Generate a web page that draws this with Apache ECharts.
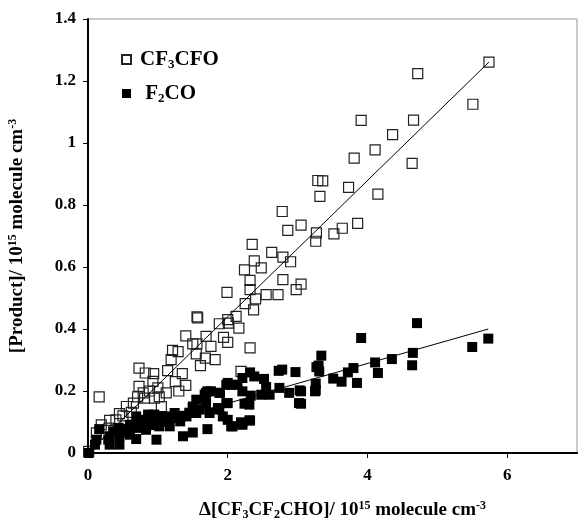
<!DOCTYPE html>
<html><head><meta charset="utf-8">
<script src="https://cdn.jsdelivr.net/npm/echarts@6/dist/echarts.min.js"></script>
<style>html,body{margin:0;padding:0;background:#fff}#c{width:578px;height:520px}</style>
</head><body><div id="c"></div>
<script>
// CF3CFO (open squares) [x, y]
const cf3cfo = [
[5.74,1.261],[4.72,1.224],[5.51,1.125],[3.91,1.073],[4.66,1.074],[4.36,1.027],[4.11,0.978],[3.81,0.951],[4.64,0.934],[3.29,0.879],[3.36,0.878],[3.73,0.857],[3.32,0.828],[4.15,0.835],
[3.05,0.735],[3.27,0.710],[3.26,0.683],[3.52,0.707],[3.64,0.725],[3.86,0.741],[3.05,0.545],
[2.78,0.779],[2.86,0.718],[2.35,0.673],[2.63,0.647],[2.79,0.632],[2.90,0.617],[2.38,0.620],[2.24,0.591],[2.48,0.597],[2.32,0.557],[2.79,0.559],[2.32,0.527],[1.99,0.518],[2.55,0.511],[2.72,0.511],[2.98,0.527],[2.40,0.497],[2.25,0.482],[2.37,0.462],[2.12,0.441],[2.16,0.403],[1.88,0.417],[2.00,0.430],[2.01,0.419],[1.56,0.439],[1.57,0.436],[1.40,0.378],[1.69,0.376],[1.94,0.373],[2.00,0.357],[2.32,0.339],[1.56,0.352],[1.76,0.344],[1.50,0.352],[1.21,0.331],[1.29,0.327],[1.19,0.301],[1.55,0.320],[1.68,0.306],[1.82,0.301],[1.61,0.282],[0.73,0.274],[0.82,0.258],[0.94,0.256],[1.14,0.266],[1.35,0.256],[2.19,0.263],
[0.16,0.181],[1.40,0.218],[0.73,0.215],[0.93,0.231],[0.71,0.181],[0.81,0.177],[1.02,0.181],[1.12,0.194],[0.55,0.150],[0.45,0.127],[0.31,0.105],[0.40,0.107],[0.12,0.065],[0.19,0.091],[0.01,0.005],[0.95,0.177],[0.79,0.194],[0.62,0.131],[0.65,0.161],[0.88,0.200],[1.00,0.210],[1.25,0.230],[0.50,0.120],[0.30,0.080],[1.05,0.150],[1.30,0.200]
];
// F2CO (filled squares) [x, y]
const f2co = [
[4.71,0.419],[3.91,0.371],[5.73,0.369],[5.50,0.342],[3.34,0.314],[4.65,0.323],[4.64,0.283],[4.35,0.303],[4.11,0.292],[4.15,0.258],[3.27,0.277],[3.31,0.263],[3.80,0.274],[3.72,0.260],[3.51,0.240],[3.63,0.230],[3.85,0.226],[3.26,0.224],[3.25,0.199],[3.05,0.199],[3.05,0.159],
[2.73,0.265],[2.78,0.269],[2.97,0.261],[3.30,0.282],[3.26,0.202],[3.03,0.202],[3.02,0.161],[2.88,0.194],[2.74,0.210],[2.32,0.260],[2.21,0.242],[2.38,0.247],[2.52,0.239],[2.00,0.226],[2.14,0.220],[2.55,0.213],[2.60,0.188],[2.48,0.188],[2.33,0.185],[2.21,0.199],[2.05,0.220],[1.71,0.199],[1.88,0.194],[1.67,0.188],[2.24,0.159],[2.31,0.156],[1.98,0.161],[1.55,0.172],[1.50,0.145],[1.86,0.145],[1.74,0.129],[1.93,0.118],[2.00,0.107],[2.05,0.086],[2.19,0.099],[2.21,0.091],[2.31,0.105],[1.71,0.077],[1.50,0.066],
[0.01,0.000],[0.16,0.077],[0.10,0.027],[0.12,0.043],[0.29,0.043],[0.31,0.027],[0.45,0.027],[0.45,0.054],[0.60,0.059],[0.69,0.045],[0.98,0.043],[0.83,0.075],[0.74,0.097],[0.88,0.107],[1.02,0.107],[1.17,0.086],[1.12,0.118],[1.29,0.113],[1.36,0.054],[1.41,0.118],[1.55,0.129],[1.50,0.150],[1.69,0.161],[1.69,0.194],[1.76,0.199],[1.89,0.194],[1.98,0.220],[1.88,0.140],[2.00,0.161],[2.07,0.086],[2.21,0.097],[2.32,0.105],[0.44,0.081],[0.55,0.077],[0.64,0.091],[0.71,0.081],[0.81,0.107],[0.93,0.097],[1.02,0.086],[1.07,0.118],[1.24,0.129],[1.32,0.102],[0.60,0.091],[0.69,0.118],[0.86,0.124],[0.95,0.124],[0.31,0.054],[0.36,0.070],[0.52,0.065],[1.45,0.130],[1.35,0.120],[1.60,0.140],[0.90,0.090],[1.15,0.100]
];
// Linear fit endpoints [x, y]
const cf3cfoFit = [[0.2,0.044],[5.74,1.261]];
const f2coFit = [[0.1,0.038],[5.73,0.400]];
const xTicks = [0,2,4,6];
const yTicks = [0,0.2,0.4,0.6,0.8,1,1.2,1.4];

const FONT = "'Liberation Serif','Times New Roman',serif";
const chart = echarts.init(document.getElementById('c'), null, {renderer:'canvas'});
const rich = {
  b:{fontFamily:FONT,fontWeight:'bold',fontSize:19,color:'#000'},
  sub:{fontFamily:FONT,fontWeight:'bold',fontSize:12,color:'#000',padding:[9,0,0,0]},
  sup:{fontFamily:FONT,fontWeight:'bold',fontSize:12,color:'#000',padding:[0,0,9,0]},
  lb:{fontFamily:FONT,fontWeight:'bold',fontSize:21,color:'#000'},
  lsub:{fontFamily:FONT,fontWeight:'bold',fontSize:13,color:'#000',padding:[10,0,0,0]}
};
chart.setOption({
  animation:false,
  backgroundColor:'#fff',
  grid:{left:88,top:19,right:1,bottom:67,outerBoundsMode:'none',containLabel:false,show:true,borderColor:'#999',borderWidth:1},
  legend:{
    orient:'vertical',left:116,top:44,itemWidth:9,itemHeight:9,itemGap:12,
    data:['CF3CFO','F2CO'],
    formatter:function(n){return n==='CF3CFO'?'{lb|CF}{lsub|3}{lb|CFO}':'{lb| F}{lsub|2}{lb|CO}';},
    textStyle:{rich:rich,fontFamily:FONT,fontWeight:'bold',fontSize:21,padding:[0,0,0,4]}
  },
  xAxis:[{
    type:'value',min:0,max:7,interval:2,
    axisLine:{show:true,onZero:false,lineStyle:{color:'#000',width:2}},
    axisTick:{show:true,inside:false,length:5,lineStyle:{color:'#000',width:1}},
    axisLabel:{showMaxLabel:false,fontFamily:FONT,fontWeight:'bold',fontSize:17,color:'#000',margin:14},
    splitLine:{show:false},
    name:'{b|Δ[CF}{sub|3}{b|CF}{sub|2}{b|CHO]/ 10}{sup|15}{b| molecule cm}{sup|-3}',
    nameLocation:'middle',nameGap:47,
    nameTextStyle:{rich:rich,padding:[0,0,0,20]}
  },{
    type:'value',position:'top',min:0,max:7,
    axisLine:{show:true,lineStyle:{color:'#000',width:2}},
    axisTick:{show:false},axisLabel:{show:false},splitLine:{show:false}
  }],
  yAxis:{
    type:'value',min:0,max:1.4,interval:0.2,
    axisLine:{show:true,onZero:false,lineStyle:{color:'#000',width:2}},
    axisTick:{show:true,inside:false,length:5,lineStyle:{color:'#000',width:1}},
    axisLabel:{fontFamily:FONT,fontWeight:'bold',fontSize:17,color:'#000',margin:12},
    splitLine:{show:false},
    name:'{b|[Product]/ 10}{sup|15}{b| molecule cm}{sup|-3}',
    nameLocation:'middle',nameGap:60,nameRotate:90,
    nameTextStyle:{rich:rich}
  },
  series:[
    {name:'CF3CFO',type:'scatter',symbol:'rect',symbolSize:10,data:cf3cfo,
     itemStyle:{color:'rgba(255,255,255,0)',borderColor:'#222',borderWidth:1.2,opacity:1}},
    {name:'F2CO',type:'scatter',symbol:'rect',symbolSize:10,data:f2co,
     itemStyle:{color:'#000',opacity:1}},
    {name:'fit1',type:'line',data:cf3cfoFit,symbol:'none',lineStyle:{color:'#000',width:1},z:5},
    {name:'fit2',type:'line',data:f2coFit,symbol:'none',lineStyle:{color:'#000',width:1},z:5}
  ]
});
</script></body></html>
